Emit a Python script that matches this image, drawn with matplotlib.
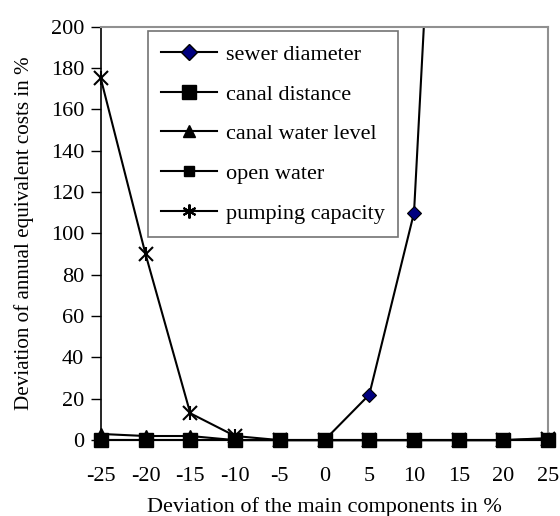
import matplotlib.pyplot as plt
from matplotlib.lines import Line2D
import numpy as np

plt.rcParams['font.family'] = ['Liberation Serif', 'DejaVu Serif']

# deviation of the main components (%)
deviation = [-25, -20, -15, -10, -5, 0, 5, 10, 15, 20, 25]

# deviation of annual equivalent costs (%)
sewer_diameter = [0, 0, 0, 0, 0, 0, 22, 110, 520, 950, 1500]
canal_distance = [0, 0, 0, 0, 0, 0, 0, 0, 0, 0, 0]
canal_water_level = [3, 2, 2, 0, 0, 0, 0, 0, 0, 0, 1]
open_water = [0, 0, 0, 0, 0, 0, 0, 0, 0, 0, 0]
pumping_capacity = [175, 90, 13, 2, 0, 0, 0, 0, 0, 0, 0.5]

fs = 16

fig = plt.figure(figsize=(5.6, 5.16), dpi=100)
ax = fig.add_axes([0.180, 0.147, 0.799, 0.801])

ax.plot(deviation, sewer_diameter, color='black', lw=1.5, marker='D', ms=7,
        mfc='#00007f', mec='black', mew=0.8, label='sewer diameter')
ax.plot(deviation, canal_distance, color='black', lw=1.5, marker='s', ms=10,
        mfc='black', mec='black', label='canal distance', zorder=4, clip_on=False)
ax.plot(deviation, canal_water_level, color='black', lw=1.5, marker='^', ms=9,
        mfc='black', mec='black', label='canal water level', clip_on=False)
ax.plot(deviation, open_water, color='black', lw=1.5, marker='s', ms=7.5,
        mfc='black', mec='black', label='open water', zorder=4, clip_on=False)
ax.plot(deviation, pumping_capacity, color='black', lw=1.5, marker='x', ms=10,
        mew=1.5, label='pumping capacity', clip_on=False)
# star-shaped pumping markers: overlay a vertical tick through each x
ax.plot(deviation, pumping_capacity, ls='none', marker='|', ms=10,
        mew=1.5, color='black', clip_on=False)

ax.set_xlim(-25, 25)
ax.set_ylim(0, 200)
ax.set_xticks(deviation)
ax.set_xticklabels(['-25', '-20', '-15', '-10', '-5', '0', '5', '10', '15', '20', '25'])
ax.set_yticks(np.arange(0, 201, 20))

for side in ['top', 'right']:
    ax.spines[side].set_color('#909090')
    ax.spines[side].set_linewidth(1.5)
for side in ['left', 'bottom']:
    ax.spines[side].set_color('black')
    ax.spines[side].set_linewidth(1.2)

ax.tick_params(axis='y', direction='out', length=7, width=1, pad=5, labelsize=fs)
ax.tick_params(axis='x', direction='out', length=0, pad=19, labelsize=fs)

ax.set_xlabel('Deviation of the main components in %', fontsize=fs, labelpad=8)
ax.set_ylabel('Deviation of annual equivalent costs in %', fontsize=fs * 0.95, labelpad=12)

handles = [
    Line2D([], [], color='black', lw=1.5, marker='D', ms=8, mfc='#00007f', mec='black'),
    Line2D([], [], color='black', lw=1.5, marker='s', ms=10, mfc='black', mec='black'),
    Line2D([], [], color='black', lw=1.5, marker='^', ms=9, mfc='black', mec='black'),
    Line2D([], [], color='black', lw=1.5, marker='s', ms=7.5, mfc='black', mec='black'),
    Line2D([], [], color='black', lw=1.5, marker=(6, 2, 0), ms=10, mew=1.5),
]
labels = ['sewer diameter', 'canal distance', 'canal water level',
          'open water', 'pumping capacity']
leg = ax.legend(handles, labels, loc='upper left', bbox_to_anchor=(0.105, 0.99),
                fontsize=fs, frameon=True, fancybox=False, shadow=False,
                handlelength=2.5, handletextpad=0.4, labelspacing=0.86,
                borderpad=0.6, borderaxespad=0)
leg.get_frame().set_edgecolor('#505050')
leg.get_frame().set_linewidth(1.2)

fig.savefig('out.png', dpi=100)
